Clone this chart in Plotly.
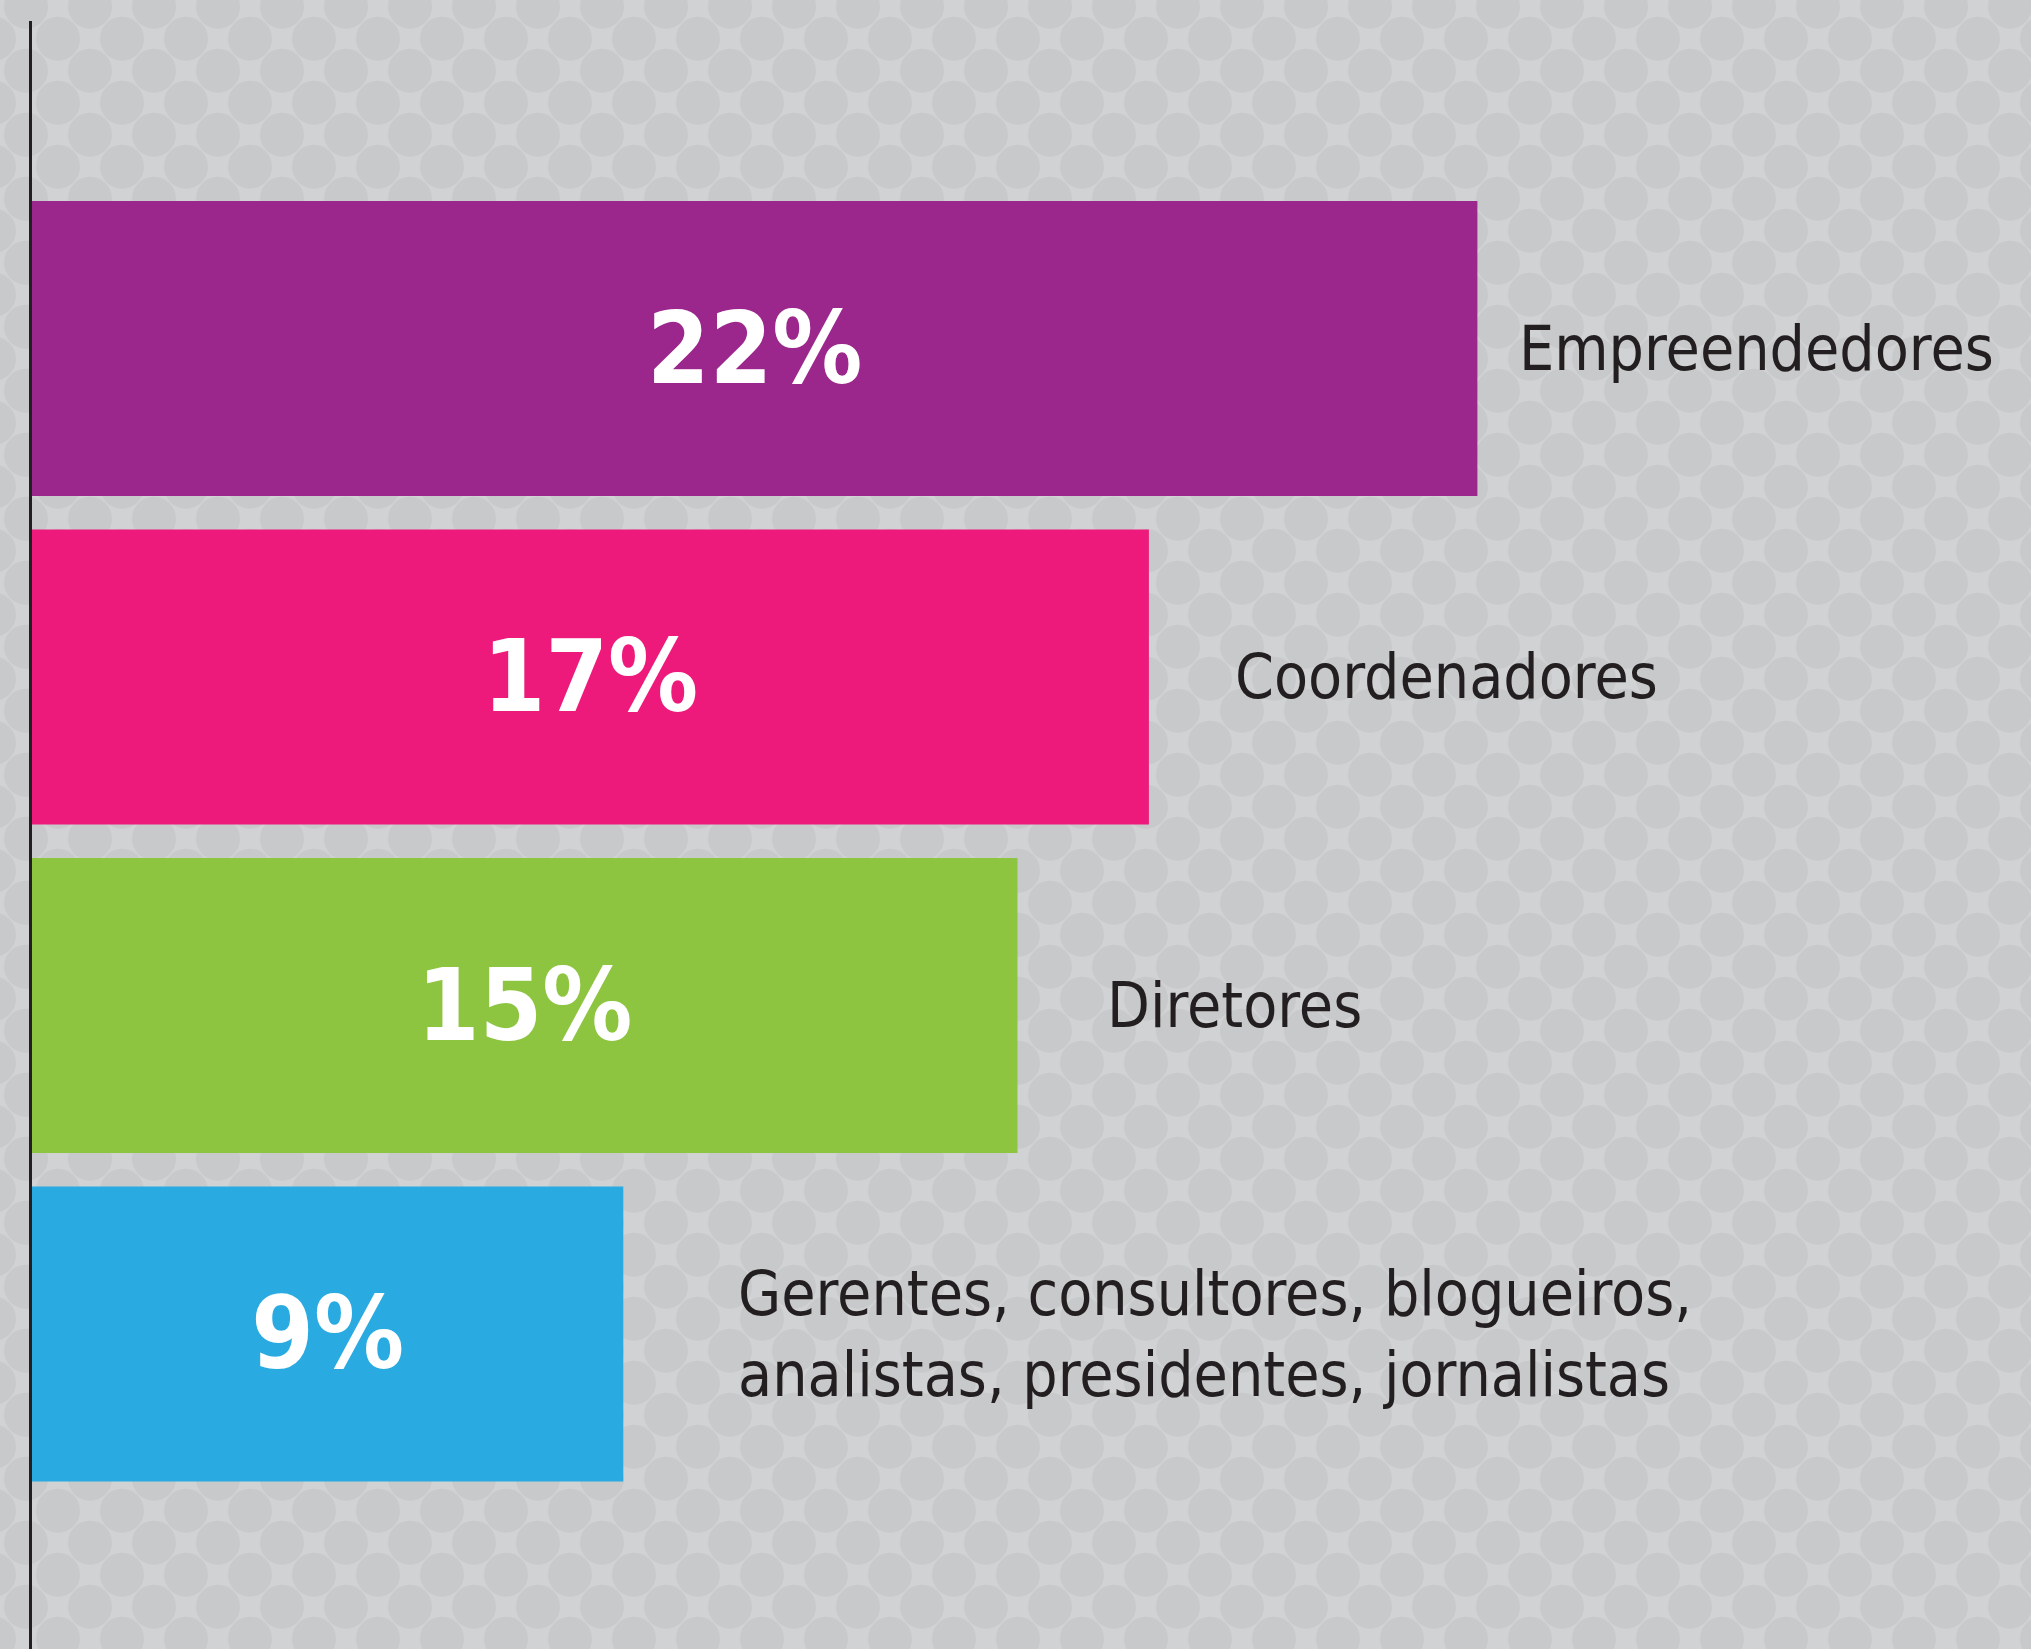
import numpy as np
import plotly.graph_objs as go

# data
categorias = ['Empreendedores', 'Coordenadores', 'Diretores',
              'Gerentes, consultores, blogueiros,<br>analistas, presidentes, jornalistas']
valores = [22, 17, 15, 9]
rotulos = ['22%', '17%', '15%', '9%']
cores = ['#9b268c', '#ed1a7b', '#8dc540', '#29abe2']

W, H = 2031, 1649
fonte = 'DejaVu Sans Condensed, DejaVu Sans, sans-serif'

# background dot pattern (decoration only)
px, py = [], []
for j in range(-1, H // 64 + 2):
    for i in range(-1, W // 64 + 2):
        px.append(26 + 64 * i)
        py.append(6.7 + 64 * j)
        px.append(58 + 64 * i)
        py.append(38.7 + 64 * j)

fundo = go.Scatter(x=px, y=py, mode='markers', hoverinfo='skip', showlegend=False,
                   marker=dict(size=44, color='#c8c9cb', line=dict(width=0)),
                   xaxis='x', yaxis='y')

barras = go.Bar(x=valores, y=list(range(len(valores))), orientation='h',
                marker=dict(color=cores, line=dict(width=0)),
                text=rotulos, textposition='inside', insidetextanchor='middle',
                textangle=0,
                textfont=dict(family=fonte, size=100, color='white', weight='bold'),
                width=0.898, showlegend=False, xaxis='x2', yaxis='y2')

fig = go.Figure(data=[fundo, barras])

# label gap after each bar (x units)
gaps = [0.6, 1.28, 1.33, 1.72]
for k, (cat, v) in enumerate(zip(categorias, valores)):
    fig.add_annotation(x=v + gaps[k], y=k, xref='x2', yref='y2', text=cat,
                       showarrow=False, xanchor='left', yanchor='middle', align='left',
                       font=dict(family=fonte, size=62, color='#231f20'))

x0 = 32 / W
ytop = 21 / H
fig.update_layout(
    width=W, height=H,
    paper_bgcolor='#d1d2d4', plot_bgcolor='rgba(0,0,0,0)',
    margin=dict(l=0, r=0, t=0, b=0),
    xaxis=dict(domain=[0, 1], range=[0, W], visible=False, fixedrange=True),
    yaxis=dict(domain=[0, 1], range=[H, 0], visible=False, fixedrange=True),
    xaxis2=dict(domain=[x0, 1], range=[0, (W - 32) / 65.7], anchor='y2',
                showgrid=False, zeroline=False, showticklabels=False, showline=False),
    yaxis2=dict(domain=[0, 1 - ytop], range=[3.959, -0.997], anchor='x2',
                showgrid=False, zeroline=False, showticklabels=False,
                showline=True, linecolor='#231f20', linewidth=3),
)

fig.write_html("out.html", config={'displayModeBar': False},
               post_script="document.body.style.margin='0';")
